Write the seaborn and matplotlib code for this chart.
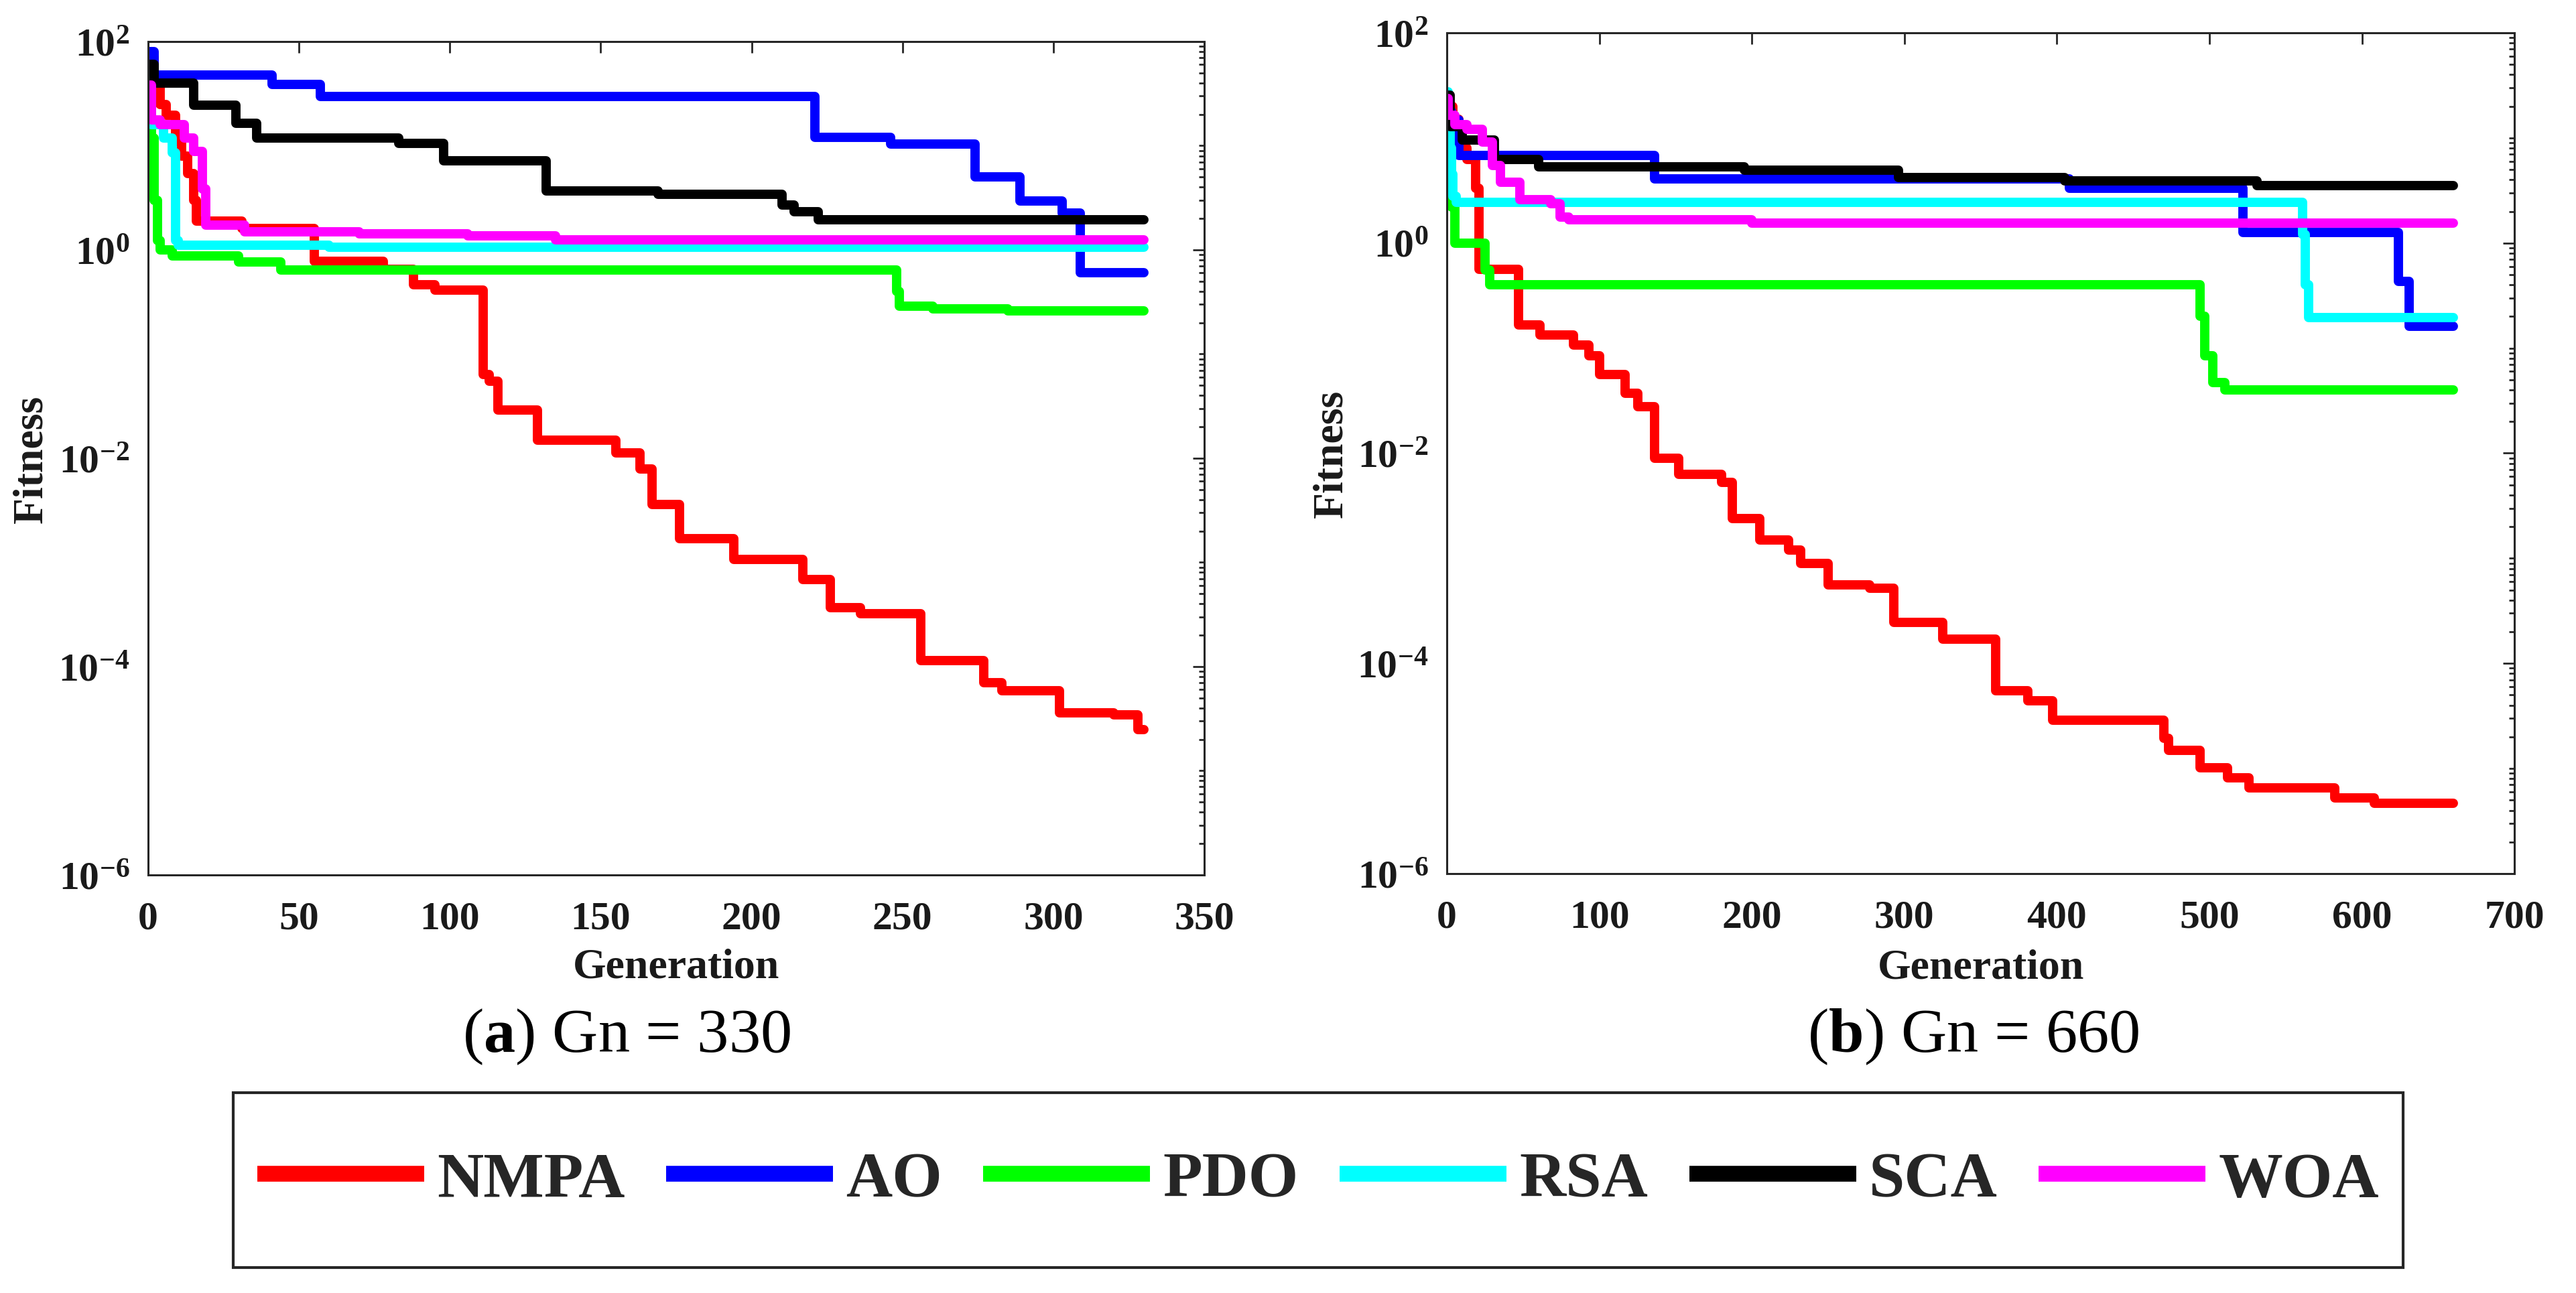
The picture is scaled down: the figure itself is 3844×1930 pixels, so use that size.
import numpy as np
import pandas as pd
import matplotlib
matplotlib.use('Agg')
import matplotlib.pyplot as plt
from matplotlib.ticker import FixedLocator, LogLocator, NullFormatter, FuncFormatter
from matplotlib.patches import Rectangle
from matplotlib.lines import Line2D
import seaborn as sns

algorithms = ['NMPA', 'AO', 'PDO', 'RSA', 'SCA', 'WOA']
colors = ['#ff0000', '#0000ff', '#00ff00', '#00ffff', '#000000', '#ff00ff']

# ---- (a) Gn = 330 : generation where best fitness changes, new value ----
nmpa_a_gen = [0, 2, 4, 6, 9, 11, 13, 15, 16, 31, 55, 78, 88, 95, 111, 113, 116, 129, 155, 163,
              167, 176, 194, 217, 226, 236, 256, 277, 283, 302, 320, 328, 330]
nmpa_a_fit = [70, 45, 25, 19.5, 11, 8, 5.4, 3, 1.9, 1.6, 0.78, 0.65, 0.46, 0.41, 0.064, 0.055, 0.029, 0.015, 0.0112, 0.0079,
              0.0036, 0.0017, 0.00107, 0.00068, 0.00037, 0.00032, 1.14e-4, 7.0e-5, 5.9e-5, 3.6e-5, 3.45e-5, 2.5e-5, 2.5e-5]
ao_a_gen = [0, 2, 41, 57, 221, 246, 274, 289, 303, 309, 330]
ao_a_fit = [80, 48, 39, 29.6, 12, 10.3, 5.0, 2.96, 2.26, 0.6, 0.6]
pdo_a_gen = [0, 1, 2, 3, 4, 8, 30, 44, 248, 249, 260, 285, 330]
pdo_a_fit = [23.8, 11.8, 3.0, 1.23, 1.0, 0.87, 0.77, 0.64, 0.4, 0.29, 0.27, 0.26, 0.26]
rsa_a_gen = [0, 1, 5, 8, 9, 10, 60, 330]
rsa_a_fit = [42, 16, 11.8, 8.5, 1.23, 1.11, 1.06, 1.06]
sca_a_gen = [0, 2, 15, 29, 36, 83, 98, 132, 169, 210, 214, 222, 330]
sca_a_fit = [60, 40, 24.6, 16.4, 11.9, 10.5, 7.2, 3.67, 3.4, 2.7, 2.33, 1.95, 1.95]
woa_a_gen = [0, 1, 4, 12, 15, 18, 19, 32, 70, 106, 135, 330]
woa_a_fit = [38, 17.7, 15.9, 11.8, 8.8, 3.85, 1.74, 1.5, 1.42, 1.36, 1.25, 1.25]

# ---- (b) Gn = 660 ----
nmpa_b_gen = [0, 4, 8, 13, 19, 21, 47, 61, 83, 93, 100, 117, 125, 136, 152, 180, 187, 205, 224, 232,
              250, 277, 293, 325, 360, 381, 397, 470, 473, 494, 512, 526, 582, 608, 660]
nmpa_b_fit = [20, 15, 8, 6.2, 3.3, 0.56, 0.166, 0.133, 0.107, 0.085, 0.056, 0.037, 0.0276, 0.0089, 0.0063, 0.0053, 0.0024,
              0.0015, 0.0012, 0.00089, 0.00056, 0.00052, 0.000246, 0.00017, 5.5e-5, 4.4e-5, 2.9e-5, 1.94e-5, 1.48e-5,
              1.02e-5, 8.1e-6, 6.5e-6, 5.25e-6, 4.7e-6, 4.7e-6]
ao_b_gen = [0, 3, 8, 136, 408, 522, 624, 631, 660]
ao_b_fit = [18, 14.8, 6.8, 4.07, 3.3, 1.26, 0.43, 0.162, 0.162]
pdo_b_gen = [0, 3, 5, 25, 28, 494, 497, 502, 510, 660]
pdo_b_fit = [6.2, 2.2, 1.0, 0.55, 0.40, 0.2, 0.085, 0.047, 0.040, 0.040]
rsa_b_gen = [0, 1, 2, 3, 4, 6, 561, 563, 565, 660]
rsa_b_fit = [27.5, 14, 8, 4.5, 2.8, 2.45, 1.2, 0.4, 0.195, 0.195]
sca_b_gen = [0, 2, 10, 31, 60, 195, 296, 405, 531, 660]
sca_b_fit = [25.6, 12.8, 9.6, 6.2, 5.3, 4.9, 4.2, 3.9, 3.5, 3.5]
woa_b_gen = [0, 1, 5, 13, 23, 30, 35, 48, 68, 74, 80, 200, 660]
woa_b_fit = [23.7, 16.4, 13.4, 12, 9.1, 5.5, 3.8, 2.57, 2.37, 1.77, 1.66, 1.55, 1.55]


def make_frame(gens, fits):
    parts = []
    for name, g, f in zip(algorithms, gens, fits):
        parts.append(pd.DataFrame({'Generation': g, 'Fitness': f, 'Algorithm': name}))
    return pd.concat(parts, ignore_index=True)


df_a = make_frame([nmpa_a_gen, ao_a_gen, pdo_a_gen, rsa_a_gen, sca_a_gen, woa_a_gen],
                  [nmpa_a_fit, ao_a_fit, pdo_a_fit, rsa_a_fit, sca_a_fit, woa_a_fit])
df_b = make_frame([nmpa_b_gen, ao_b_gen, pdo_b_gen, rsa_b_gen, sca_b_gen, woa_b_gen],
                  [nmpa_b_fit, ao_b_fit, pdo_b_fit, rsa_b_fit, sca_b_fit, woa_b_fit])

sns.set_style('white')
plt.rcParams['font.family'] = ['Liberation Serif', 'DejaVu Serif']
plt.rcParams['font.weight'] = 'bold'
plt.rcParams['axes.labelweight'] = 'bold'
plt.rcParams['mathtext.fontset'] = 'custom'
plt.rcParams['mathtext.rm'] = 'Liberation Serif'
plt.rcParams['mathtext.bf'] = 'Liberation Serif:bold'
plt.rcParams['axes.edgecolor'] = '#262626'
plt.rcParams['axes.linewidth'] = 2.2

fig = plt.figure(figsize=(38.44, 19.31), dpi=100)
ax_a = fig.add_axes([0.0575, 0.3232, 0.41, 0.6442])
ax_b = fig.add_axes([0.5617, 0.3242, 0.4144, 0.6499])


def style_axes(ax, xmax, xstep, xlab_y, ylab_x):
    ax.set_yscale('log')
    ax.set_ylim(1e-6, 1e2)
    ax.set_xlim(0, xmax)
    ax.set_xticks(np.arange(0, xmax + 1, xstep))
    ax.yaxis.set_major_locator(FixedLocator([1e-6, 1e-4, 1e-2, 1e0, 1e2]))
    ax.yaxis.set_minor_locator(LogLocator(base=10, subs=np.arange(1, 10), numticks=50))
    ax.yaxis.set_minor_formatter(NullFormatter())
    ax.yaxis.set_major_formatter(FuncFormatter(lambda v, p: r'$\mathbf{10^{%d}}$' % round(np.log10(v))))
    ax.tick_params(which='both', direction='in', top=True, right=True, width=2,
                   color='#262626', labelcolor='#1a1a1a', labelsize=43)
    ax.tick_params(which='major', length=12)
    ax.tick_params(which='minor', length=6)
    ax.tick_params(axis='x', pad=28)
    ax.tick_params(axis='y', pad=20)
    ax.set_xlabel('Generation', fontsize=46, fontweight='bold', va='center', color='#1a1a1a')
    ax.xaxis.set_label_coords(0.5, xlab_y)
    ax.set_ylabel('Fitness', fontsize=46, fontweight='bold', va='center', color='#1a1a1a')
    ax.yaxis.set_label_coords(ylab_x, 0.5)


for ax, df in [(ax_a, df_a), (ax_b, df_b)]:
    sns.lineplot(data=df, x='Generation', y='Fitness', hue='Algorithm', hue_order=algorithms,
                 palette=colors, estimator=None, drawstyle='steps-post', linewidth=10,
                 legend=False, ax=ax)

style_axes(ax_a, 350, 50, -0.111, -0.11)
style_axes(ax_b, 700, 100, -0.1116, -0.108)

# captions under each panel
fig.text(0.2432, 0.1984, r'($\mathbf{a}$) Gn = 330', fontsize=68, fontweight='normal',
         ha='center', va='center', color='black')
fig.text(0.7661, 0.1984, r'($\mathbf{b}$) Gn = 660', fontsize=68, fontweight='normal',
         ha='center', va='center', color='black')

# shared legend in a box
handles = [Line2D([0], [0], color=c, lw=17, solid_capstyle='butt') for c in colors]
fig.legend(handles, algorithms, loc='center', bbox_to_anchor=(0.5117, 0.087), ncol=6,
           frameon=False, fontsize=69, handlelength=2.6, handletextpad=0.2,
           columnspacing=0.64, borderpad=0, borderaxespad=0)
fig.add_artist(Rectangle((0.0905, 0.0197), 0.8424, 0.1352, transform=fig.transFigure,
                         fill=False, edgecolor='#262626', linewidth=3))

fig.savefig('out.png', dpi=100)
